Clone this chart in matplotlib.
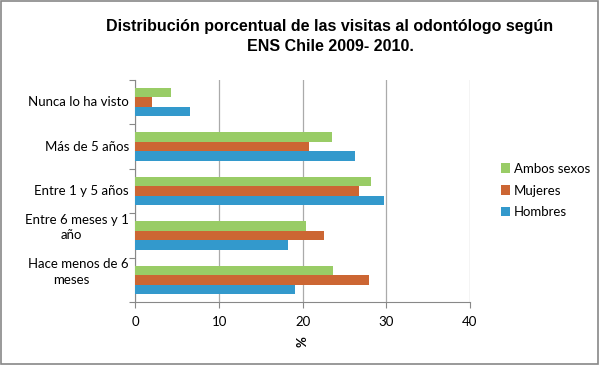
import numpy as np
import matplotlib.pyplot as plt
import matplotlib.patches as patches
import matplotlib.transforms as mtransforms

categorias_l = [
    "Hace menos de 6\nmeses",
    "Entre 6 meses y 1\naño",
    "Entre 1 y 5 años",
    "Más de 5 años",
    "Nunca lo ha visto",
]
hombres_l = [19.1, 18.2, 29.7, 26.3, 6.5]
mujeres_l = [27.9, 22.5, 26.7, 20.8, 2.0]
ambos_l = [23.6, 20.4, 28.2, 23.5, 4.3]
xticks_l = [0, 10, 20, 30, 40]

plt.rcParams["font.family"] = ["Lato", "DejaVu Sans"]

fig = plt.figure(figsize=(6, 3.65), dpi=100)
ax = fig.add_axes([0.2258, 0.1726, 0.5575, 0.6082])

pos_l = np.arange(len(categorias_l))
bar_f = 0.213
series_l = [
    (hombres_l, "Hombres", "#3399CC", -bar_f),
    (mujeres_l, "Mujeres", "#CC6633", 0.0),
    (ambos_l, "Ambos sexos", "#99CC66", bar_f),
]
for vals_l, label_s, color_s, off_f in series_l:
    ax.barh(pos_l + off_f, vals_l, height=bar_f, color=color_s, label=label_s, zorder=3)

ax.set_xlim(0, 40)
ax.set_ylim(-0.5, len(categorias_l) - 0.5)
ax.set_xticks(xticks_l)
ax.set_yticks(np.arange(-0.5, len(categorias_l)))
ax.set_yticklabels([])
ax.tick_params(axis="y", length=4, color="#888888", direction="out")
ax.tick_params(axis="x", length=4, color="#888888", labelsize=9.5, pad=6)
ax.grid(axis="x", color="#aaaaaa", linewidth=0.9, zorder=0)
for side_s in ["top", "right"]:
    ax.spines[side_s].set_visible(False)
for side_s in ["left", "bottom"]:
    ax.spines[side_s].set_color("#888888")

# category labels: Excel wraps long ones in a fixed box, so first line
# sits right-aligned and the wrapped line is centred in the box
ytrans = ax.get_yaxis_transform()
for y_f, cat_s in zip(pos_l, categorias_l):
    lines_l = cat_s.split("\n")
    if len(lines_l) == 1:
        ax.text(-0.02, y_f, cat_s, transform=ytrans,
                ha="right", va="center", fontsize=9.5)
        continue
    up = mtransforms.ScaledTranslation(0, 15.5 / 100, fig.dpi_scale_trans)
    ax.text(-0.02, y_f, lines_l[0], transform=ytrans + up,
            ha="right", va="center", fontsize=9.5)
    ax.text(-0.193, y_f, lines_l[1], transform=ytrans,
            ha="center", va="center", fontsize=9.5)

ax.set_xlabel("%", fontweight="bold", rotation=90, fontsize=9.5, labelpad=6)

handles, labels = ax.get_legend_handles_labels()
fig.legend(
    handles[::-1],
    labels[::-1],
    loc="center left",
    bbox_to_anchor=(0.815, 0.478),
    frameon=False,
    fontsize=9.5,
    handlelength=0.7,
    handleheight=0.7,
    handletextpad=0.3,
    labelspacing=0.75,
)

fig.text(
    0.55,
    0.9,
    "Distribución porcentual de las visitas al odontólogo según\nENS Chile 2009- 2010.",
    ha="center",
    va="center",
    fontsize=11.5,
    fontweight="bold",
    family=["Liberation Sans", "DejaVu Sans"],
    linespacing=1.4,
)

fig.patches.append(
    patches.Rectangle(
        (0.002, 0.003), 0.995, 0.993, transform=fig.transFigure,
        fill=False, edgecolor="#888888", linewidth=1.2,
    )
)

plt.savefig("out.png", dpi=100)
